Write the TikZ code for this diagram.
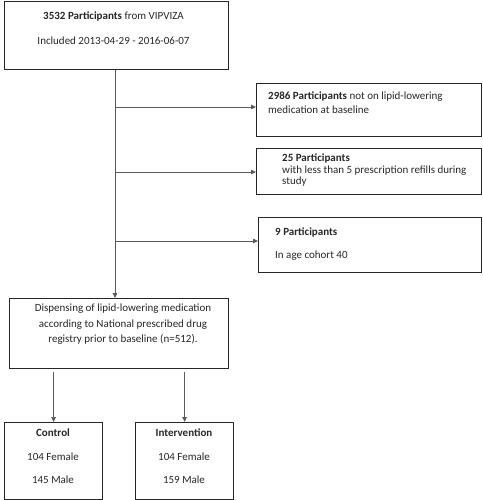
\documentclass[tikz,border=0pt]{standalone}
\usepackage{fontspec}
\setmainfont{Carlito}
\usetikzlibrary{arrows.meta}
\begin{document}
\begin{tikzpicture}[x=1pt,y=-1pt,
  box/.style={draw=black!85, line width=1.2pt, inner sep=0pt, anchor=north west},
  conn/.style={draw=black!65, line width=0.8pt},
  arr/.style={conn, -{Triangle[length=5pt,width=4.5pt]}},
  txt/.style={font=\fontsize{11}{13}\selectfont, inner sep=0pt, text=black!85, text height=7.5pt, text depth=2pt},
  tl/.style={txt, anchor=west},
  tc/.style={txt, anchor=center}]
\useasboundingbox (0,0) rectangle (482,500);
% boxes
\node[box, minimum width=224pt, minimum height=68.5pt] (top) at (4,0.8) {};
\node[box, minimum width=225pt, minimum height=53pt] (b1) at (256,83) {};
\node[box, minimum width=225pt, minimum height=46pt] (b2) at (256,148) {};
\node[box, minimum width=223pt, minimum height=55pt] (b3) at (258,217) {};
\node[box, minimum width=219pt, minimum height=70pt] (disp) at (9,298) {};
\node[box, minimum width=98pt, minimum height=77pt] (ctrl) at (4,422) {};
\node[box, minimum width=98pt, minimum height=77pt] (intv) at (135,422) {};
% texts
\node[tc] (t1) at (113.5,17) {\textbf{3532 Participants} from VIPVIZA};
\node[tc] (t2) at (113.5,42) {Included 2013-04-29 - 2016-06-07};
\node[tl] (t3) at (268,97) {\textbf{2986 Participants} not on lipid-lowering};
\node[tl] (t4) at (268,111) {medication at baseline};
\node[tl] (t5) at (282,159) {\textbf{25 Participants}};
\node[tl] (t6) at (282,170.5) {with less than 5 prescription refills during};
\node[tl] (t7) at (282,182) {study};
\node[tl] (t8) at (275,233) {\textbf{9 Participants}};
\node[tl] (t9) at (275,256) {In age cohort 40};
\node[tc] (t10) at (123,309) {Dispensing of lipid-lowering medication};
\node[tc] (t11) at (123,325) {according to National prescribed drug};
\node[tc] (t12) at (123,340) {registry prior to baseline (n=512).};
\node[tc] (t13) at (53,434) {\textbf{Control}};
\node[tc] (t14) at (53,458) {104 Female};
\node[tc] (t15) at (53,481) {145 Male};
\node[tc] (t16) at (184,434) {\textbf{Intervention}};
\node[tc] (t17) at (184,458) {104 Female};
\node[tc] (t18) at (184,481) {159 Male};
% connectors
\coordinate (trunk) at (115,0);
\coordinate (j1) at (115,107);
\coordinate (j2) at (115,172);
\coordinate (j3) at (115,241);
\draw[arr] (top.south -| trunk) -- (disp.north -| trunk);
\draw[arr] (j1) -- (j1 -| b1.west);
\draw[arr] (j2) -- (j2 -| b2.west);
\draw[arr] (j3) -- (j3 -| b3.west);
\draw[arr, shorten <=3pt] (disp.south -| ctrl.north) -- (ctrl.north);
\draw[arr, shorten <=3pt] (disp.south -| intv.north) -- (intv.north);
\end{tikzpicture}
\end{document}
